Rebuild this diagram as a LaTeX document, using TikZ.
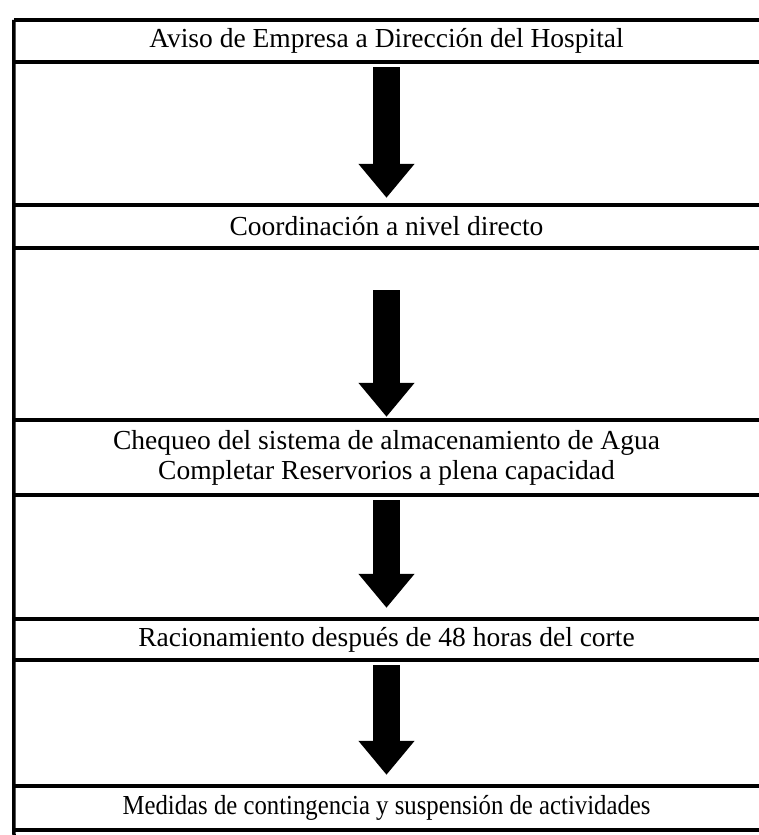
\documentclass[tikz,border=0pt]{standalone}
\usepackage{fontspec}
\setmainfont{Liberation Serif}
\usetikzlibrary{arrows.meta}

\begin{document}
\begin{tikzpicture}[x=1pt, y=-1pt,
  fila/.style={minimum width=745pt, inner sep=0pt, align=center,
    font=\fontsize{27.5}{30}\selectfont},
  regla/.style={line width=3.5pt},
  flecha/.style={line width=27pt, xshift=2.5pt, -{Triangle[width=54pt, length=34pt]}}]
\useasboundingbox (0,0) rectangle (759,835);
% filas de texto
\node[fila, minimum height=42pt] (f1) at (386.5,41) {Aviso de Empresa a Dirección del Hospital};
\node[fila, minimum height=43pt] (f2) at (386.5,226.5) {Coordinación a nivel directo};
\node[fila, minimum height=75pt] (f3) at (386.5,457.5) {Chequeo del sistema de almacenamiento de Agua\\Completar Reservorios a plena capacidad};
\node[fila, minimum height=41pt] (f4) at (386.5,639.5) {Racionamiento después de 48 horas del corte};
\node[fila, minimum height=44pt] (f5) at (386.5,808) {\scalebox{0.9}[1]{Medidas de contingencia y suspensión de actividades}};
\coordinate (fondo) at (14,835);
% reglas
\foreach \f in {f1,f2,f3,f4,f5} {
  \draw[regla] (\f.north west) -- (\f.north east);
  \draw[regla] (\f.south west) -- (\f.south east);
}
\draw[regla] (f1.north west) -- (fondo);
% flechas
\draw[flecha] ([yshift=-5pt]f1.south) -- ([yshift=7pt]f2.north);
\draw[flecha] ([yshift=-42pt]f2.south) -- ([yshift=3pt]f3.north);
\draw[flecha] ([yshift=-5pt]f3.south) -- ([yshift=11pt]f4.north);
\draw[flecha] ([yshift=-5pt]f4.south) -- ([yshift=11pt]f5.north);
\end{tikzpicture}
\end{document}
